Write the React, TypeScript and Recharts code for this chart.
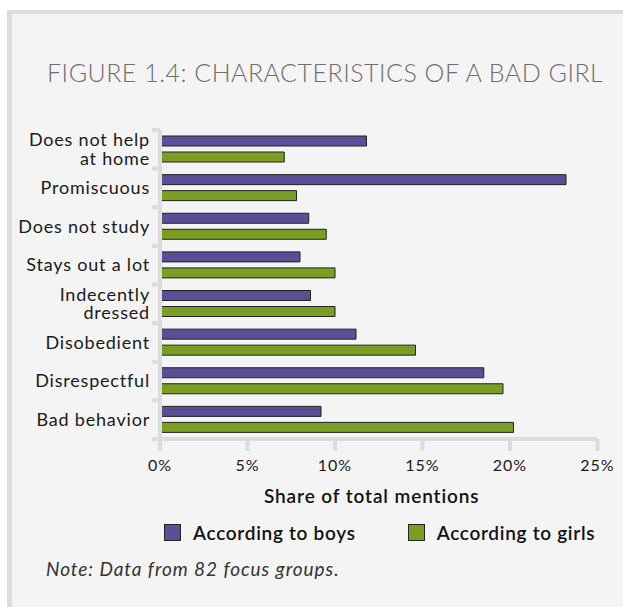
import React from "react";
import { BarChart, Bar, XAxis, YAxis } from "recharts";

// Share of mentions (%) per trait, by respondent group
const traits = [
  "Does not help\nat home",
  "Promiscuous",
  "Does not study",
  "Stays out a lot",
  "Indecently\ndressed",
  "Disobedient",
  "Disrespectful",
  "Bad behavior",
];
const boysShare = [11.8, 23.2, 8.5, 8.0, 8.6, 11.2, 18.5, 9.2];
const girlsShare = [7.1, 7.8, 9.5, 10.0, 10.0, 14.6, 19.6, 20.2];
const xTicks = [0, 5, 10, 15, 20, 25];

const seriesNames = ["According to boys", "According to girls"];
const BOYS = "#5a4e96";
const GIRLS = "#7a9e23";
const AXIS = "#dcdcdc";
const FONT = "Lato, 'Noto Sans', sans-serif";

const PLOT_TOP = 130;
const PLOT_BOTTOM = 439;
const BAND = (PLOT_BOTTOM - PLOT_TOP) / traits.length;

const data = traits.map((name, i) => ({
  name,
  boys: boysShare[i],
  girls: girlsShare[i],
}));

// category label plus the boundary tick above each band
function TraitTick(props: any) {
  const { x, y, payload, index } = props;
  const lines = String(payload.value).split("\n");
  const last = index === traits.length - 1;
  return (
    <g>
      <line x1={x + 2} x2={x + 10} y1={y - BAND / 2} y2={y - BAND / 2} stroke={AXIS} strokeWidth={4} />
      {last && (
        <line x1={x + 2} x2={x + 12} y1={y + BAND / 2} y2={y + BAND / 2} stroke={AXIS} strokeWidth={4} />
      )}
      <text x={x} y={y} textAnchor="end" fill="#1a1a1a" fontSize={18} letterSpacing={0.8} fontFamily={FONT}>
        {lines.map((line, i) => (
          <tspan key={i} x={x} dy={i === 0 ? `${0.35 - (lines.length - 1) * 0.52}em` : "1.04em"}>
            {line}
          </tspan>
        ))}
      </text>
    </g>
  );
}

export default function App() {
  return (
    <div style={{ position: "absolute", left: 0, top: 0, width: 623, height: 607, background: "#fff", fontFamily: FONT }}>
      <div
        style={{
          position: "absolute",
          left: 7,
          top: 10,
          right: 0,
          bottom: 0,
          background: "#f4f4f4",
          borderLeft: `5px solid ${AXIS}`,
          borderTop: `4px solid ${AXIS}`,
        }}
      />
      <div
        style={{
          position: "absolute",
          left: 47,
          top: 57,
          fontSize: 25,
          fontWeight: 300,
          color: "#6e6e6e",
          letterSpacing: 0.5,
          whiteSpace: "nowrap",
        }}
      >
        FIGURE 1.4: CHARACTERISTICS OF A BAD GIRL
      </div>

      <div style={{ position: "absolute", left: 0, top: 0 }}>
        <BarChart
          width={623}
          height={607}
          data={data}
          layout="vertical"
          barSize={10}
          barGap={6}
          margin={{ top: PLOT_TOP, right: 25.5, bottom: 607 - PLOT_BOTTOM - 64, left: 0 }}
        >
          <XAxis
            type="number"
            domain={[0, 25]}
            ticks={xTicks}
            tickFormatter={(v) => `${v}%`}
            height={64}
            axisLine={{ stroke: AXIS, strokeWidth: 4 }}
            tickLine={{ stroke: AXIS, strokeWidth: 4 }}
            tickSize={12}
            tickMargin={9}
            tick={{ fill: "#1a1a1a", fontSize: 16, letterSpacing: 1, fontFamily: FONT }}
            label={{
              value: "Share of total mentions",
              position: "insideBottom",
              offset: 0,
              dx: -7,
              fill: "#111",
              fontSize: 19,
              letterSpacing: 0.9,
              fontWeight: 600,
              fontFamily: FONT,
            }}
          />
          <YAxis
            type="category"
            dataKey="name"
            width={160}
            axisLine={{ stroke: AXIS, strokeWidth: 4 }}
            tickLine={false}
            tickSize={8}
            tickMargin={2}
            interval={0}
            tick={<TraitTick />}
          />
          <Bar dataKey="boys" name={seriesNames[0]} fill={BOYS} stroke="#222" strokeWidth={1} isAnimationActive={false} />
          <Bar dataKey="girls" name={seriesNames[1]} fill={GIRLS} stroke="#222" strokeWidth={1} isAnimationActive={false} />
        </BarChart>
      </div>

      <div
        style={{
          position: "absolute",
          left: 164,
          top: 521,
          display: "flex",
          alignItems: "center",
          fontSize: 19,
          letterSpacing: 0.7,
          fontWeight: 600,
          color: "#111",
        }}
      >
        {seriesNames.map((name, i) => (
          <div key={name} style={{ display: "flex", alignItems: "center", marginRight: i === 0 ? 52 : 0 }}>
            <span
              style={{
                display: "inline-block",
                width: 15,
                height: 15,
                background: i === 0 ? BOYS : GIRLS,
                border: "1px solid #222",
                marginRight: 12,
              }}
            />
            {name}
          </div>
        ))}
      </div>

      <div
        style={{
          position: "absolute",
          left: 46,
          top: 557,
          fontSize: 19,
          letterSpacing: 0.95,
          fontStyle: "italic",
          color: "#333",
        }}
      >
        Note: Data from 82 focus groups.
      </div>
    </div>
  );
}
